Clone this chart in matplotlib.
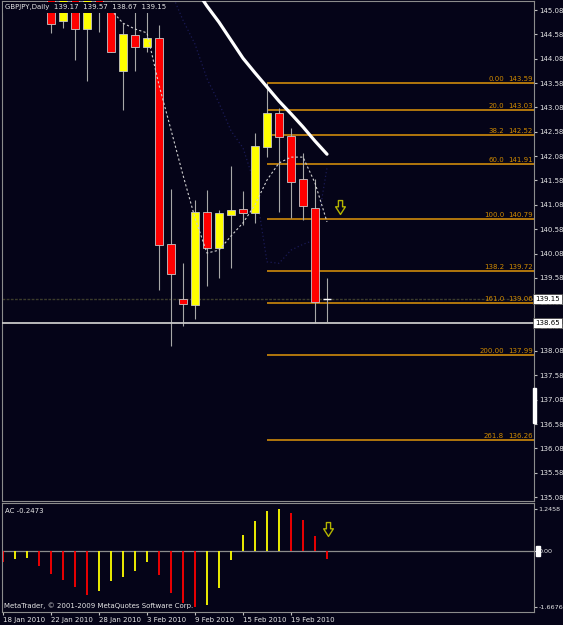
import numpy as np
import matplotlib
matplotlib.use("Agg")
import matplotlib.pyplot as plt
import matplotlib.transforms as mtransforms
from matplotlib.path import Path
from matplotlib.patches import Rectangle

W, H = 563, 625
BG = "#050418"
GRID = "#8c8c8c"
TXT = "#e6e6e6"
UP, DOWN = "#ffff00", "#ff0000"
FIB_C, FIB_T = "#e0960a", "#d08a00"
FS = 5.0
plt.rcParams["font.family"] = ["DejaVu Sans"]

# ---- data (GBPJPY daily, 18 Jan - 24 Feb 2010) ----
opens  = [148.20, 148.50, 148.10, 147.00, 145.90, 144.86, 145.60, 144.69, 145.50, 145.05,
          143.83, 144.57, 144.33, 144.50, 140.27, 139.15, 139.03, 140.94, 140.20, 140.88,
          140.99, 140.91, 142.27, 142.96, 142.49, 141.61, 141.01, 139.17]
highs  = [148.90, 149.20, 148.40, 147.40, 146.20, 145.90, 145.80, 145.70, 145.90, 145.40,
          144.82, 145.05, 145.40, 144.77, 141.40, 139.88, 141.18, 141.38, 140.97, 141.88,
          141.36, 142.56, 143.59, 143.06, 142.65, 142.14, 141.62, 139.57]
lows   = [147.60, 147.90, 146.70, 145.60, 144.60, 144.72, 144.05, 143.62, 144.62, 144.22,
          143.03, 143.83, 144.22, 139.33, 138.19, 138.60, 138.74, 139.42, 139.57, 139.78,
          140.67, 140.70, 142.07, 140.94, 140.82, 140.77, 138.65, 138.67]
closes = [148.50, 148.10, 147.00, 145.90, 144.79, 145.60, 144.69, 145.50, 145.10, 144.22,
          144.58, 144.33, 144.50, 140.25, 139.67, 139.05, 140.94, 140.19, 140.91, 140.97,
          140.91, 142.29, 142.97, 142.48, 141.55, 141.06, 139.08, 139.15]

# slow MA (thick white), fast MA (white dots), navy dotted line; None = not drawn
ma_slow = [None] * 16 + [145.53, 145.16, 144.83, 144.46, 144.09, 143.79, 143.50,
                         143.21, 142.95, 142.68, 142.39, 142.12]
ma_fast = [None] * 9 + [145.08, 144.81, 144.69, 144.61, 143.54, 142.62, 141.69, 140.81,
                        140.09, 140.15, 140.44, 140.71, 141.08, 141.59, 141.94, 142.06,
                        142.06, 141.53, 140.73]
ma_navy = [None] * 14 + [145.45, 144.87, 144.38, 143.67, 143.17, 142.60, 142.25, 141.49,
                         139.91, 139.88, 140.15, 140.27, 140.36, 141.84]

fib_levels = ["0.00", "20.0", "38.2", "60.0", "100.0", "138.2", "161.0", "200.00", "261.8"]
fib_prices = [143.59, 143.03, 142.52, 141.91, 140.79, 139.72, 139.06, 137.99, 136.26]
fib_start = 22

ac = [-0.32, -0.25, -0.20, -0.45, -0.68, -0.87, -1.06, -1.31, -1.18, -0.88,
      -0.77, -0.61, -0.32, -0.72, -1.25, -1.56, -1.6676, -1.62, -1.10, -0.28,
      0.46, 0.89, 1.19, 1.2458, 1.14, 0.92, 0.44, -0.2473]

tick_bars = [0, 4, 8, 12, 16, 20, 24]
tick_labels = ["18 Jan 2010", "22 Jan 2010", "28 Jan 2010", "3 Feb 2010",
               "9 Feb 2010", "15 Feb 2010", "19 Feb 2010"]
price_ticks = np.round(np.arange(135.08, 145.09, 0.5), 2)

bid, hline = 139.15, 138.65
arrow_main = (28.1, 141.04)
arrow_ac = (27.06, 0.65)

# ---- figure ----
fig = plt.figure(figsize=(W / 100, H / 100), dpi=100, facecolor=BG)


def px_axes(x0, y0, x1, y1):
    a = fig.add_axes([x0 / W, 1 - y1 / H, (x1 - x0) / W, (y1 - y0) / H])
    a.set_facecolor(BG)
    for s in a.spines.values():
        s.set_color(GRID)
        s.set_linewidth(0.8)
    return a


ax = px_axes(2, 1, 534, 501)
ax2 = px_axes(2, 503, 534, 612)
xlim = (-1 / 12, 531 / 12)
ax.set_xlim(*xlim)
ax2.set_xlim(*xlim)
ax.set_ylim(135.0, 145.265)
ax2.set_ylim(-1.816, 1.424)

n = len(opens)
xs = np.arange(n)
o, h, l, c = map(np.array, (opens, highs, lows, closes))

# fibonacci levels
ax.hlines(fib_prices, fib_start, xlim[1], color=FIB_C, lw=1.1, zorder=2)
tr = mtransforms.blended_transform_factory(ax.transAxes, ax.transData)
for lev, p in zip(fib_levels, fib_prices):
    ax.text(0.9436, p + 0.02, lev, transform=tr, ha="right", va="bottom",
            fontsize=FS, color=FIB_T, zorder=6)
    ax.text(0.998, p + 0.02, f"{p:.2f}", transform=tr, ha="right", va="bottom",
            fontsize=FS, color=FIB_T, zorder=6)

# navy dotted line
nv = np.array([np.nan if v is None else v for v in ma_navy])
ax.plot(xs, nv, color="#1a1a55", lw=0.9, ls=(0, (1, 2)), zorder=2)

# bid line and horizontal line
ax.axhline(bid, color="#3c3c2c", lw=1.0, ls=(0, (2, 1)), zorder=2)
ax.axhline(hline, color="#c8c8c8", lw=1.3, zorder=3.5)

# candles
ax.vlines(xs, l, h, color="#a8a8a8", lw=0.8, zorder=3)
for i in range(n):
    if abs(c[i] - o[i]) < 0.05:
        ax.hlines(c[i], i - 0.33, i + 0.33, color="white", lw=1.0, zorder=3.2)
        continue
    col = UP if c[i] > o[i] else DOWN
    ax.bar(i, abs(c[i] - o[i]), bottom=min(o[i], c[i]), width=0.66, color=col,
           edgecolor="#c8c8c8", lw=0.6, zorder=3.1)

# moving averages
ms = np.array([np.nan if v is None else v for v in ma_slow])
mf = np.array([np.nan if v is None else v for v in ma_fast])
ax.plot(xs, ms, color="white", lw=2.3, solid_capstyle="round", zorder=4)
ax.plot(xs, mf, color="#d0d0d0", lw=0.8, ls=(0, (2, 2)), zorder=4)

# hollow down arrows
arrow = Path([(-0.3, 1), (0.3, 1), (0.3, 0.1), (0.7, 0.1), (0, -1), (-0.7, 0.1),
              (-0.3, 0.1), (-0.3, 1)], closed=True)
ax.plot(*arrow_main, marker=arrow, ms=10, mfc="none", mec="#b4b400", mew=1.0, zorder=5)
ax2.plot(*arrow_ac, marker=arrow, ms=10, mfc="none", mec="#b4b400", mew=1.0, zorder=5)

# right price axis
ax.set_xticks([])
ax.yaxis.tick_right()
ax.set_yticks(price_ticks)
ax.set_yticklabels([f"{p:.2f}" for p in price_ticks])
ax.tick_params(axis="y", length=2, width=0.8, color="#c0c0c0", labelsize=FS,
               labelcolor=TXT, pad=1.5)
for p in (bid, hline):
    ax.text(1.002, p, f"{p:.2f}", transform=tr, ha="left", va="center", fontsize=FS,
            color="black", zorder=7,
            bbox=dict(boxstyle="square,pad=0.3", fc="white", ec="#404040", lw=0.5))
ax.add_patch(Rectangle((0.998, 136.60), 0.006, 0.72, transform=tr, color="white",
                       clip_on=False, zorder=7))

# header
fig.text(5 / W, 1 - 7.5 / H, "GBPJPY,Daily  139.17  139.57  138.67  139.15",
         ha="left", va="center", fontsize=FS, color=TXT, zorder=10,
         bbox=dict(boxstyle="square,pad=0.3", fc=BG, ec="none"))

# AC indicator
acv = np.array(ac)
cols = [DOWN] + [UP if acv[i] > acv[i - 1] else DOWN for i in range(1, n)]
ax2.axhline(0, color=GRID, lw=0.9, zorder=1)
ax2.vlines(xs, 0, acv, colors=cols, lw=1.3, zorder=2)
ax2.yaxis.tick_right()
ax2.set_yticks([1.2458, 0, -1.6676])
ax2.set_yticklabels(["1.2458", "0.00", "-1.6676"])
ax2.tick_params(axis="y", length=2, width=0.8, color="#c0c0c0", labelsize=4.6,
                labelcolor=TXT, pad=1.2)
tr2 = mtransforms.blended_transform_factory(ax2.transAxes, ax2.transData)
ax2.add_patch(Rectangle((1.004, -0.16), 0.0065, 0.32, transform=tr2, color="white",
                        clip_on=False, zorder=7))
ax2.set_xticks(tick_bars)
ax2.set_xticklabels(tick_labels, ha="left")
ax2.tick_params(axis="x", length=2.5, width=0.8, color="#c0c0c0", labelsize=FS,
                labelcolor=TXT, pad=1)
fig.text(5 / W, 1 - 511 / H, "AC -0.2473", ha="left", va="center", fontsize=FS,
         color=TXT)
fig.text(4 / W, 1 - 606 / H, "MetaTrader, \u00a9 2001-2009 MetaQuotes Software Corp.",
         ha="left", va="center", fontsize=FS, color=TXT)

fig.savefig("out.png", dpi=100, facecolor=BG)
